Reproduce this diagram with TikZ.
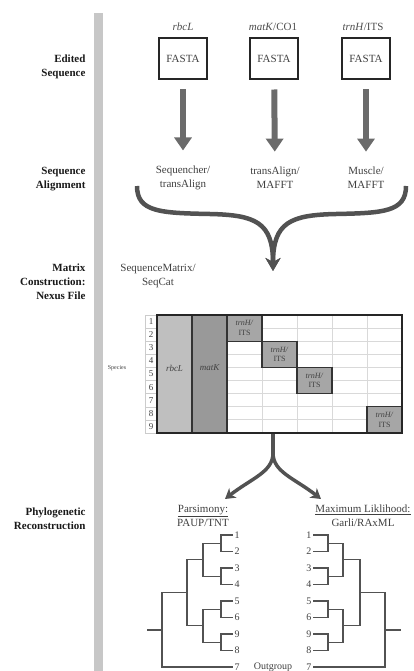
\documentclass[tikz,border=0pt]{standalone}
\usepackage{fontspec}
\setmainfont{Liberation Serif}
\usetikzlibrary{arrows.meta,calc,positioning}

\begin{document}
\begin{tikzpicture}[x=1pt,y=-1pt,
  steplab/.style={anchor=east,align=right,font=\fontsize{11}{14}\selectfont\bfseries,text=black!90},
  gene/.style={font=\fontsize{11}{13}\selectfont\itshape,text=black!70},
  fasta/.style={draw=black!85,line width=2pt,minimum width=48pt,minimum height=41pt,font=\fontsize{11}{13}\selectfont,text=black!75},
  prog/.style={align=center,font=\fontsize{11}{14}\selectfont,text=black!75},
  bigarrow/.style={line width=6pt,black!58,-{Triangle[width=17pt,length=13pt]}},
  bracearrow/.style={line width=4.5pt,black!68,-{Stealth[width=15pt,length=13pt,inset=4pt]}},
  splitarrow/.style={line width=3.5pt,black!68,-{Stealth[width=12pt,length=10pt,inset=3pt]}},
  numcell/.style={draw=black!20,minimum width=12pt,minimum height=13.11pt,inner sep=0pt,font=\fontsize{9}{9}\selectfont,text=black!75},
  colbox/.style={draw=black!80,line width=1.2pt},
  grid/.style={draw=black!15,line width=0.8pt},
  its/.style={align=center,inner sep=0pt,font=\fontsize{8}{9.5}\selectfont,text=black!75},
  leaf/.style={inner sep=1.5pt,font=\fontsize{10}{12}\selectfont,text=black!75},
  tree/.style={draw=black!68,line width=1.2pt}]
\useasboundingbox (0,0) rectangle (414,671);

% side bar and step names
\fill[black!22] (94,13) rectangle (103,671);
\node[steplab] (s1) at (89,67) {Edited\\Sequence};
\node[steplab] (s2) at (89,179) {Sequence\\Alignment};
\node[steplab] (s3) at (89,282) {Matrix\\Construction:\\Nexus File};
\node[steplab] (s4) at (89,519) {Phylogenetic\\Reconstruction};

% edited sequences
\node[gene] (g1) at (183,27) {rbcL};
\node[gene] (g2) at (273,27) {matK\textup{/CO1}};
\node[gene] (g3) at (363,27) {trnH\textup{/ITS}};
\node[fasta] (f1) at (183,59) {FASTA};
\node[fasta] (f2) at (274,59) {FASTA};
\node[fasta] (f3) at (366,59) {FASTA};

% alignment
\node[prog] (a1) at (183,178) {Sequencher/\\transAlign};
\node[prog] (a2) at (275,178) {transAlign/\\MAFFT};
\node[prog] (a3) at (366,178) {Muscle/\\MAFFT};
\foreach \i in {1,2,3}
  \draw[bigarrow,shorten <=9pt,shorten >=12pt] (f\i) -- (a\i);

\coordinate (bl) at (137,186);
\coordinate (br) at (406,186);
\coordinate (bt) at (273,271);
\draw[bracearrow] (bl) .. controls (137,212) and (160,213) .. (210,214) .. controls (255,215) and (273,222) .. (bt);
\draw[bracearrow] (br) .. controls (406,212) and (383,213) .. (336,214) .. controls (291,215) and (273,222) .. (bt);

% matrix
\node[prog] (m0) at (158,276) {SequenceMatrix/\\SeqCat};
\node[font=\fontsize{6}{6}\selectfont,text=black!75] (sp) at (117,368) {Species};
\foreach \i in {1,...,9}
  \node[numcell] (n\i) at (151,315+13.11*\i-6.555) {\i};
\foreach \i in {1,...,8}
  \draw[grid] (227,315+13.11*\i) -- (402,315+13.11*\i);
\foreach \x in {262,297,332,367}
  \draw[grid] (\x,315) -- (\x,433);
\draw[colbox,fill=black!25] (157,315) rectangle (192,433);
\draw[colbox,fill=black!40] (192,315) rectangle (227,433);
\node[its,font=\fontsize{9}{9}\selectfont\itshape] (c1) at (174.5,368) {rbcL};
\node[its,font=\fontsize{9}{9}\selectfont\itshape] (c2) at (209.5,368) {matK};
\foreach \c/\r in {1/0,2/2,3/4,5/7} {
  \draw[colbox,fill=black!35] (227+35*\c-35,315+13.11*\r) rectangle +(35,26.22);
  \node[its] (t\c) at (244.5+35*\c-35,328.11+13.11*\r) {\textit{trnH/}\\ITS};
}
\node[draw=black!85,line width=2.2pt,minimum width=245pt,minimum height=118pt,inner sep=0pt] (mat) at (279.5,374) {};

% split to the two methods
\coordinate (sb) at (273,453);
\coordinate (pl) at (225,499);
\coordinate (pr) at (321,499);
\draw[black!68,line width=3.5pt] (mat.south -| sb) -- (sb);
\draw[splitarrow] (sb) .. controls (273,472) and (252,478) .. (pl);
\draw[splitarrow] (sb) .. controls (273,472) and (294,478) .. (pr);

\node[prog] (ph) at (203,516) {\underline{Parsimony:}\\PAUP/TNT};
\node[prog] (mh) at (363,516) {\underline{Maximum Liklihood:}\\Garli/RAxML};

% parsimony tree
\foreach \n/\t/\y in {1/1/535,2/2/551.5,3/3/568,4/4/584.5,5/5/601,6/6/617.5,7/9/634,8/8/650.5,9/7/667}
  \node[leaf,anchor=west] (p\n) at (233,\y) {\t};
\coordinate (pa) at (221,543.25);
\coordinate (pb) at (221,576.25);
\coordinate (pc) at (221,609.25);
\coordinate (pd) at (221,642.25);
\coordinate (pq1) at (203,559.75);
\coordinate (pq2) at (203,625.75);
\coordinate (pg) at (187,592.75);
\coordinate (pr0) at (162,629.9);
\draw[tree] (p1.west) -| (pa) |- (p2.west);
\draw[tree] (p3.west) -| (pb) |- (p4.west);
\draw[tree] (p5.west) -| (pc) |- (p6.west);
\draw[tree] (p7.west) -| (pd) |- (p8.west);
\draw[tree] (pa) -| (pq1) |- (pb);
\draw[tree] (pc) -| (pq2) |- (pd);
\draw[tree] (pq1) -| (pg) |- (pq2);
\draw[tree] (pg) -| (pr0) |- (p9.west);
\draw[tree] (pr0) -- ++(-15,0);

\node[leaf] (og) at (273,667) {Outgroup};

% likelihood tree
\foreach \n/\t/\y in {1/1/535,2/2/551.5,3/3/568,4/4/584.5,5/5/601,6/6/617.5,7/9/634,8/8/650.5,9/7/667}
  \node[leaf,anchor=east] (m\n) at (313,\y) {\t};
\coordinate (ma) at (328,543.25);
\coordinate (mb) at (328,576.25);
\coordinate (mc) at (328,609.25);
\coordinate (md) at (328,642.25);
\coordinate (mq1) at (343,559.75);
\coordinate (mq2) at (343,625.75);
\coordinate (mg) at (360,592.75);
\coordinate (mr0) at (385,629.9);
\draw[tree] (m1.east) -| (ma) |- (m2.east);
\draw[tree] (m3.east) -| (mb) |- (m4.east);
\draw[tree] (m5.east) -| (mc) |- (m6.east);
\draw[tree] (m7.east) -| (md) |- (m8.east);
\draw[tree] (ma) -| (mq1) |- (mb);
\draw[tree] (mc) -| (mq2) |- (md);
\draw[tree] (mq1) -| (mg) |- (mq2);
\draw[tree] (mg) -| (mr0) |- (m9.east);
\draw[tree] (mr0) -- ++(16,0);
\end{tikzpicture}
\end{document}
